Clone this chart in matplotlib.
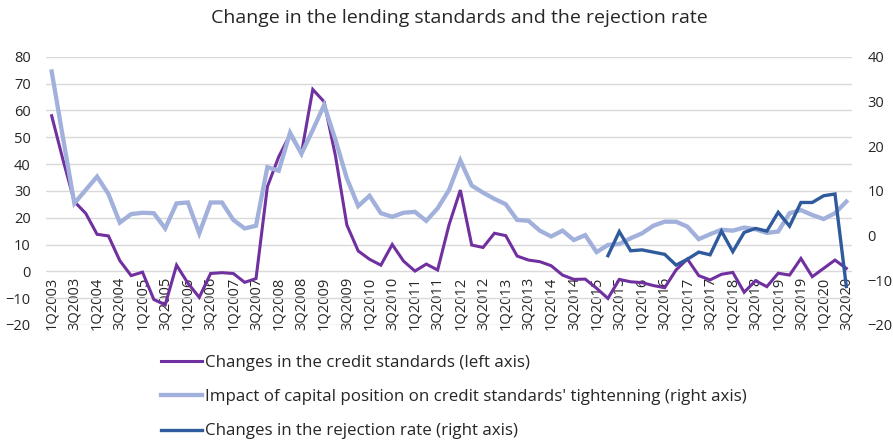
import numpy as np
import matplotlib
matplotlib.use('Agg')
import matplotlib.pyplot as plt

plt.rcParams['font.family'] = ['Open Sans', 'DejaVu Sans']

# quarters 1Q2003 .. 3Q2020
quarters = [f'{q}Q{y}' for y in range(2003, 2021) for q in range(1, 5)][:71]

# changes in credit standards (left axis)
credit_std = [58, 41.5, 26, 21.6, 13.8, 13.2, 4.0, -1.6, -0.3, -10.5,
              -12.5, 2.3, -4.4, -9.7, -0.8, -0.5, -0.8, -4.1, -2.7, 31.5,
              42.7, 51, 44, 67.8, 63.2, 43, 17.3, 7.6, 4.5, 2.3,
              10, 3.8, 0.1, 2.7, 0.5, 17.3, 30.3, 9.8, 8.9, 14.2,
              13.3, 5.7, 4.2, 3.6, 2.1, -1.4, -3.0, -2.9, -6.3, -10.1,
              -3.0, -3.9, -4.2, -5.3, -6.1, 0.5, 4.6, -1.6, -3.2, -1.1,
              -0.4, -7.8, -3.5, -5.7, -0.7, -1.4, 4.8, -2.0, 1.1, 4.2, 1.1]

# impact of capital position (right axis)
capital_pos = [36.7, 21.8, 7.2, 10.2, 13.2, 9.3, 2.9, 4.8, 5.1, 5.0,
               1.6, 7.2, 7.4, 0.5, 7.4, 7.4, 3.5, 1.6, 2.2, 15.3,
               14.5, 23.0, 18.3, 23.6, 29.2, 21.4, 12.8, 6.6, 8.9, 5.0,
               4.2, 5.1, 5.3, 3.3, 6.1, 10.2, 16.8, 11.2, 9.6, 8.2,
               7.0, 3.5, 3.3, 1.1, -0.2, 1.1, -1.0, 0.1, -3.7, -2.1,
               -1.9, -0.6, 0.5, 2.2, 3.1, 3.1, 2.0, -0.8, 0.3, 1.3,
               1.1, 1.8, 1.4, 0.6, 0.9, 5.0, 5.7, 4.6, 3.7, 5.0, 7.6]

# changes in rejection rate (right axis), starts 2Q2015
rejection = [np.nan] * 49 + [-4.5, 0.9, -3.4, -3.2, -3.7, -4.2, -6.6, -5.3, -3.7, -4.3,
                             1.0, -3.6, 0.7, 1.6, 1.0, 5.2, 2.1, 7.4, 7.4, 8.9,
                             9.3, -11.4]

labels = ['Changes in the credit standards (left axis)',
          "Impact of capital position on credit standards' tightenning (right axis)",
          'Changes in the rejection rate (right axis)']

txt = '#262626'
x = np.arange(len(quarters))

fig = plt.figure(figsize=(8.93, 4.45), dpi=100)
ax1 = fig.add_axes([46/893, 1-325/445, (852-46)/893, (325-56.7)/445])
ax2 = ax1.twinx()

l1, = ax1.plot(x, credit_std, color='#7030A0', lw=2.2, solid_joinstyle='miter')
l2, = ax2.plot(x, capital_pos, color='#A2B1DC', lw=3.1, solid_joinstyle='miter')
l3, = ax2.plot(x, rejection, color='#2F5B9C', lw=2.4, solid_joinstyle='miter')

# x labels sit on the zero line, like the excel chart
ax1.spines['bottom'].set_position(('data', 0))

ax1.set_xlim(-0.5, 70.5)
ax1.set_ylim(-20, 80)
ax2.set_ylim(-20, 40)
ax1.set_yticks(range(-20, 81, 10))
ax2.set_yticks(range(-20, 41, 10))
ax1.grid(axis='y', color='#d9d9d9', lw=1)
ax1.set_axisbelow(True)

ax1.set_xticks(x[::2])
ax1.set_xticklabels(quarters[::2])

for a in (ax1, ax2):
    for s in a.spines.values():
        s.set_visible(False)
    a.tick_params(length=0, labelsize=10.5, colors=txt)
ax1.tick_params(axis='y', pad=11)
ax2.tick_params(axis='y', pad=11)
ax1.tick_params(axis='x', pad=4, labelrotation=90)

fig.text(459.5/893, 1-18/445, 'Change in the lending standards and the rejection rate',
         ha='center', va='center', fontsize=14, color=txt)

fig.legend([l1, l2, l3], labels, loc='upper left', bbox_to_anchor=(161/893, 1-355/445),
           frameon=False, fontsize=12.15, handlelength=2.4, handletextpad=0.2,
           labelspacing=1.08, borderpad=0, borderaxespad=0, labelcolor=txt)

fig.savefig('out.png', dpi=100)
